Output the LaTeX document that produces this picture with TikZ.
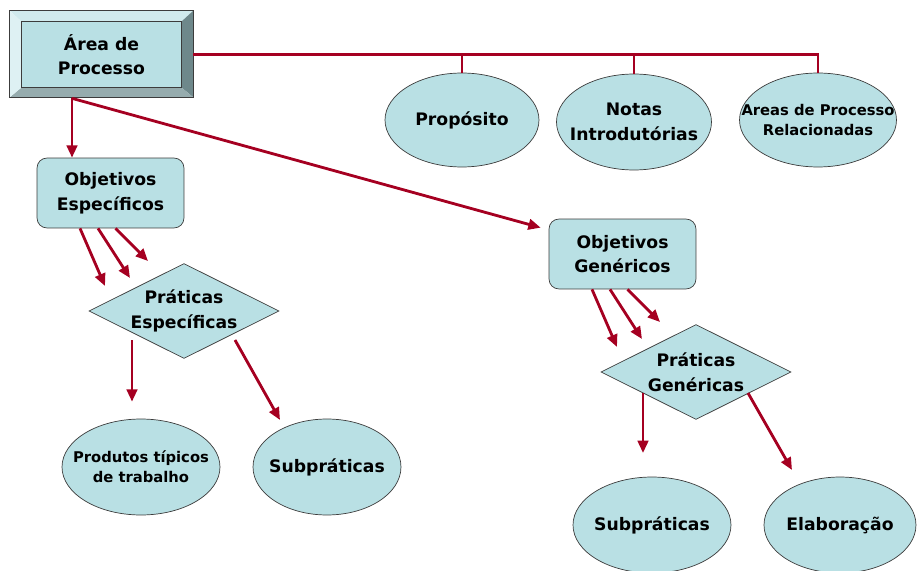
\documentclass[tikz,border=0pt]{standalone}
\usepackage{fontspec}
\setmainfont{DejaVu Sans}
\usetikzlibrary{shapes.geometric}
\usetikzlibrary{arrows.meta}
\definecolor{cmmired}{RGB}{165,0,33}
\definecolor{cmmifill}{RGB}{185,224,228}
\definecolor{cmmiedge}{RGB}{60,60,60}
\definecolor{bevtop}{RGB}{208,234,237}
\definecolor{bevleft}{RGB}{222,241,243}
\definecolor{bevright}{RGB}{110,136,139}
\definecolor{bevbottom}{RGB}{150,172,174}
\tikzset {
  >={Triangle[length=7pt,width=6pt]},
  % text sizes
  big/.style={font=\fontsize{9.8}{14}\selectfont\bfseries, align=center},
  small/.style={font=\fontsize{8.4}{11.3}\selectfont\bfseries, align=center},
  % the process area box (bevel is drawn by hand)
  areabox/.style={big, fill=cmmifill, minimum width=3.18cm, minimum height=1.3cm, inner sep=0pt},
  % goals
  goal/.style={big, draw=cmmiedge, fill=cmmifill, rounded corners=0.2cm, minimum width=2.94cm, minimum height=1.4cm, inner sep=0pt},
  % practices
  practice/.style={draw=cmmiedge, fill=cmmifill, diamond, minimum width=3.8cm, minimum height=1.9cm, inner sep=0pt},
  % components
  comp/.style={draw=cmmiedge, fill=cmmifill, ellipse, minimum width=3.1cm, minimum height=1.92cm, inner sep=0pt},
  inside/.style={label={[big]center:#1}},
  insidesmall/.style={label={[small]center:#1}},
  link/.style={cmmired, line width=1.6pt},
}
\begin{document}
\begin{tikzpicture}[x=0.02cm, y=-0.02cm]
  \useasboundingbox (0,0) rectangle (917,571);

  \node[areabox] (area) at (101.5,54.5) {Área de\\Processo};
  \coordinate (onw) at ([shift={(-12,-11)}]area.north west);
  \coordinate (one) at ([shift={(12,-11)}]area.north east);
  \coordinate (ose) at ([shift={(12,10)}]area.south east);
  \coordinate (osw) at ([shift={(-12,10)}]area.south west);
  \fill[bevtop] (onw) -- (one) -- (area.north east) -- (area.north west) -- cycle;
  \fill[bevright] (one) -- (ose) -- (area.south east) -- (area.north east) -- cycle;
  \fill[bevbottom] (ose) -- (osw) -- (area.south west) -- (area.south east) -- cycle;
  \fill[bevleft] (osw) -- (onw) -- (area.north west) -- (area.south west) -- cycle;
  \draw[cmmiedge] (onw) rectangle (ose);
  \draw[cmmiedge, line width=0.3pt] (area.north west) rectangle (area.south east);

  \node[comp, minimum width=3.08cm, minimum height=1.88cm, inside=Propósito] (prop) at (462,120) {};
  \node[comp, inside={Notas\\Introdutórias}] (notas) at (634,122) {};
  \node[comp, minimum width=3.14cm, minimum height=1.88cm, insidesmall={Areas de Processo\\Relacionadas}] (rel) at (818,120) {};

  \node[goal] (oe) at (110.5,193) {Objetivos\\Específicos};
  \node[practice, inside={Práticas\\Específicas}] (pe) at (184,311) {};
  \node[comp, minimum width=3.16cm, insidesmall={Produtos típicos\\de trabalho}] (prod) at (141,467) {};
  \node[comp, minimum width=2.96cm, inside=Subpráticas] (subpe) at (327,467) {};

  \node[goal] (og) at (622.5,254) {Objetivos\\Genéricos};
  \node[practice, inside={Práticas\\Genéricas}] (pg) at (696,372) {};
  \node[comp, minimum width=3.16cm, inside=Subpráticas] (subpg) at (652,525) {};
  \node[comp, minimum width=3.04cm, inside=Elaboração] (elab) at (840,525) {};

  % top bus to the informative parts
  \draw[link] ([xshift=0.24cm]area.east) -| (rel.north);
  \draw[link] (prop.north) -- (prop.north |- area.east);
  \draw[link] (notas.north) -- (notas.north |- area.east);

  % area to goals
  \coordinate (areaout) at ([shift={(-29.5,11)}]area.south);
  \draw[link,->] (areaout) -- (areaout |- oe.north);
  \draw[link,->] (areaout) -- ([shift={(-8,9)}]og.north west);

  % goals to practices
  \foreach \goal/\prac in {oe/pe, og/pg} {
    \draw[link,->] ([shift={(-30.5,0)}]\goal.south) -- ([shift={(-79,-25)}]\prac.center);
    \draw[link,->] ([shift={(-12.5,0)}]\goal.south) -- ([shift={(-54,-33)}]\prac.center);
    \draw[link,->] ([shift={(5,0)}]\goal.south) -- ([shift={(-36,-50)}]\prac.center);
  }

  % practices to their parts
  \draw[link,->] ([shift={(-52,29)}]pe.center) -- ([shift={(-9,-17)}]prod.north);
  \draw[link,->] ([shift={(51,29)}]pe.center) -- ([shift={(-47,-47)}]subpe.center);
  \draw[link,->] ([shift={(-53,21)}]pg.center) -- ([shift={(-9,-72)}]subpg.center);
  \draw[link,->] ([shift={(52,21)}]pg.center) -- ([shift={(-48,-55)}]elab.center);
\end{tikzpicture}
\end{document}
